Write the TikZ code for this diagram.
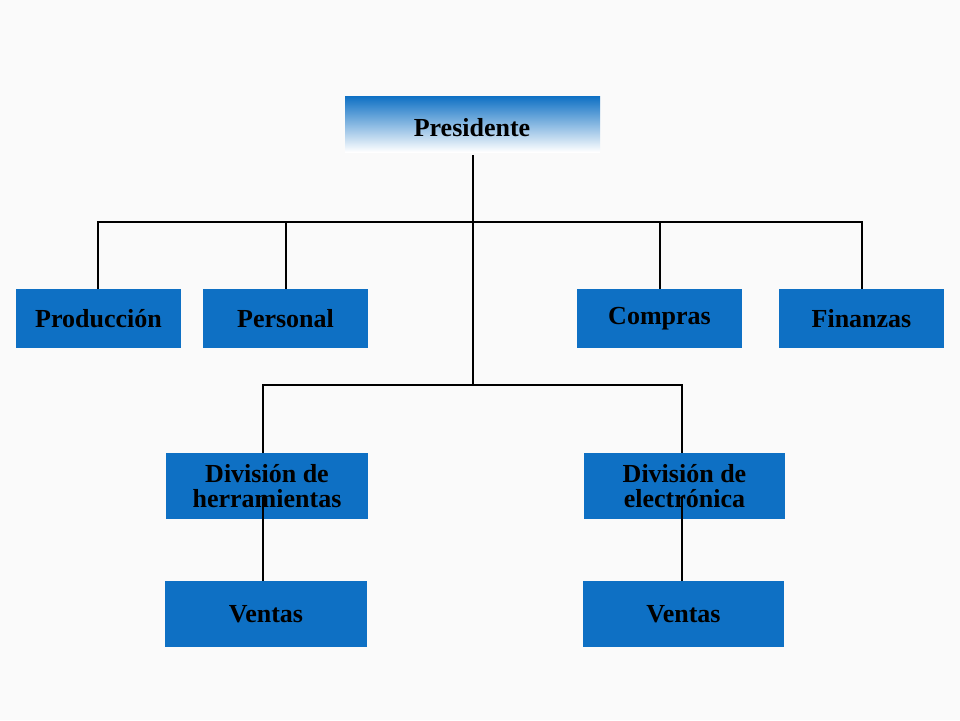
\documentclass[tikz,border=0pt]{standalone}
\usepackage{fontspec}
\setmainfont{Liberation Serif}
\begin{document}
\begin{tikzpicture}[x=1pt,y=-1pt,
  box/.style={fill=boxblue,inner sep=0pt,font=\fontsize{26}{25}\selectfont\bfseries,align=center},
  ln/.style={line width=2.6pt,black}]
\definecolor{boxblue}{RGB}{14,112,196}
\fill[white!96!gray] (0,0) rectangle (960,720);
\useasboundingbox (0,0) rectangle (960,720);
\shade[top color=boxblue,bottom color=white] (345,96) rectangle (600,152);
\node[inner sep=0pt,font=\fontsize{26}{25}\selectfont\bfseries] (pres) at (472,128) {Presidente};
\coordinate (p0) at (473,155);
\coordinate (hub) at (473,222);
\coordinate (hub2) at (473,385);
\node[box,minimum width=165,minimum height=59] (prod) at (98.5,318.5) {Producción};
\node[box,minimum width=165,minimum height=59] (pers) at (285.5,318.5) {Personal};
\node[box,minimum width=165,minimum height=59] (comp) at (659.5,318.5) {Compras};
\node[box,minimum width=165,minimum height=59] (fin) at (861.5,318.5) {Finanzas};
\node[box,minimum width=202,minimum height=66] (dh) at (267,486) {División de\\herramientas};
\node[box,minimum width=201,minimum height=66] (de) at (684.5,486) {División de\\electrónica};
\node[box,minimum width=202,minimum height=66] (v1) at (266,614) {Ventas};
\node[box,minimum width=201,minimum height=66] (v2) at (683.5,614) {Ventas};
\draw[ln] (p0) -- (hub2);
\draw[ln] (98,289) -- (98,222) -- (862,222) -- (862,289);
\draw[ln] (286,222) -- (286,289);
\draw[ln] (660,222) -- (660,289);
\draw[ln] (263,453) -- (263,385) -- (682,385) -- (682,453);
\draw[ln] (263,497) -- (263,581);
\draw[ln] (682,497) -- (682,581);
\end{tikzpicture}
\end{document}
